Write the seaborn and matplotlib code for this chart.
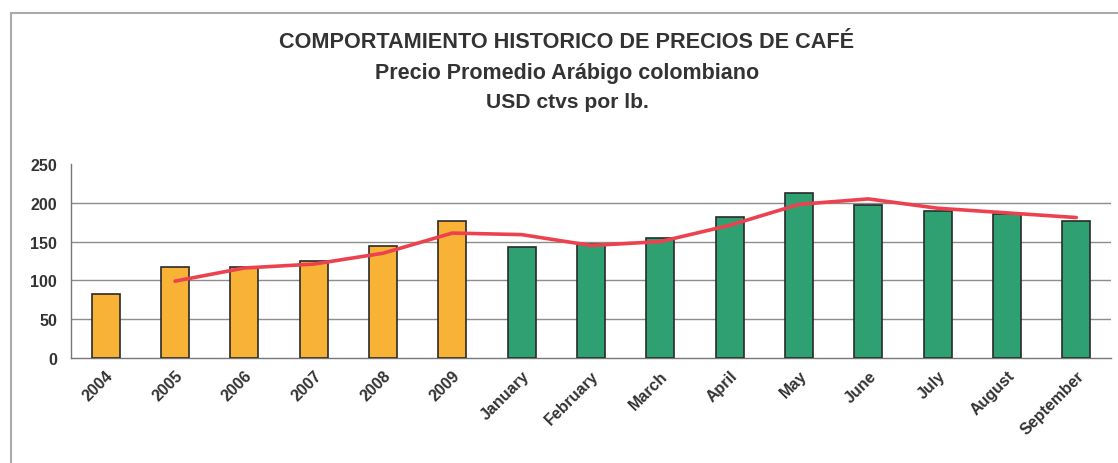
"""
plot.py — Comportamiento histórico de precios de café (Arábigo colombiano)
"""

import numpy as np
import pandas as pd
import matplotlib
matplotlib.use("Agg")
import matplotlib.pyplot as plt
from matplotlib.patches import Rectangle
import seaborn as sns


# ──────────────────────────────────────────────
# DATOS
# ──────────────────────────────────────────────

categorias = ["2004", "2005", "2006", "2007", "2008", "2009",
              "January", "February", "March", "April", "May", "June",
              "July", "August", "September"]
periodo = ["anual"] * 6 + ["mensual"] * 9
precios = [82, 117, 117, 125, 144, 176,
           143, 147, 155, 182, 213, 197, 189, 186, 177]
# media móvil de 2 periodos (empieza en 2005)
media_movil = [None, 99, 116, 121, 135, 161,
               159, 145, 150, 171, 198, 205, 193, 187, 181]

titulo = ["COMPORTAMIENTO HISTORICO DE PRECIOS DE CAFÉ",
          "Precio Promedio Arábigo colombiano",
          "USD ctvs por lb."]

PALETTE = {
    "anual":   "#F8B236",
    "mensual": "#2FA072",
    "linea":   "#EC4250",
    "texto":   "#333333",
    "grid":    "#8C8C8C",
}


# ──────────────────────────────────────────────
# ESTILO
# ──────────────────────────────────────────────

sns.set_theme(style="white")
plt.rcParams.update({
    "font.family": ["Liberation Sans", "DejaVu Sans"],
    "figure.facecolor": "white",
    "axes.facecolor": "white",
})

W, H = 1118, 464
fig = plt.figure(figsize=(W / 100, H / 100), dpi=100)
ax = fig.add_axes([71 / W, 1 - 359 / H, (1111 - 71) / W, (359 - 165) / H])

df = pd.DataFrame({"categoria": categorias, "periodo": periodo, "precio": precios})
df["pos"] = np.arange(len(df))
df["media"] = pd.to_numeric(pd.Series(media_movil), errors="coerce")

# Barras
sns.barplot(data=df, x="categoria", y="precio", hue="periodo",
            palette={"anual": PALETTE["anual"], "mensual": PALETTE["mensual"]},
            saturation=1, dodge=False, width=0.4, edgecolor="#2a2a2a",
            linewidth=1.2, legend=False, ax=ax, zorder=3)

# Línea de media móvil
sns.lineplot(data=df.dropna(subset=["media"]), x="pos", y="media",
             color=PALETTE["linea"], linewidth=2.6, ax=ax, zorder=4)

# Ejes
ax.set_xlim(-0.5, len(categorias) - 0.5)
ax.set_ylim(0, 250)
ax.set_yticks(range(0, 251, 50))
ax.set_xlabel("")
ax.set_ylabel("")
for y in range(50, 201, 50):
    ax.axhline(y, color=PALETTE["grid"], lw=1.0, zorder=1)

ax.set_xticks(np.arange(len(categorias)))
ax.set_xticklabels(categorias, rotation=45, ha="right", rotation_mode="anchor",
                   fontsize=11.5, fontweight="bold", color=PALETTE["texto"])
ax.tick_params(axis="x", which="major", length=0, pad=7)
ax.set_xticks(np.arange(len(categorias) + 1) - 0.5, minor=True)
ax.tick_params(axis="x", which="minor", length=4, color="#777777", direction="out")
ax.tick_params(axis="y", length=4, color="#777777", direction="out", pad=6,
               labelsize=11.5, labelcolor=PALETTE["texto"])
for lab in ax.get_yticklabels():
    lab.set_fontweight("bold")

sns.despine(ax=ax, top=True, right=True)
for lado in ["left", "bottom"]:
    ax.spines[lado].set_color("#777777")
    ax.spines[lado].set_linewidth(1.0)

# Títulos
ys = [1 - 43 / H, 1 - 73 / H, 1 - 102 / H]
tamanos = [15.6, 15.5, 15.2]
for txt, y, s in zip(titulo, ys, tamanos):
    fig.text(567 / W, y, txt, ha="center", va="center", fontsize=s,
             fontweight="bold", color=PALETTE["texto"])

# Marco del gráfico
fig.add_artist(Rectangle((11 / W, -0.1), 2, 1 - 14 / H + 0.1,
                         transform=fig.transFigure, fill=False,
                         edgecolor="#AAAAAA", linewidth=1.5))

fig.savefig("out.png", dpi=100)
